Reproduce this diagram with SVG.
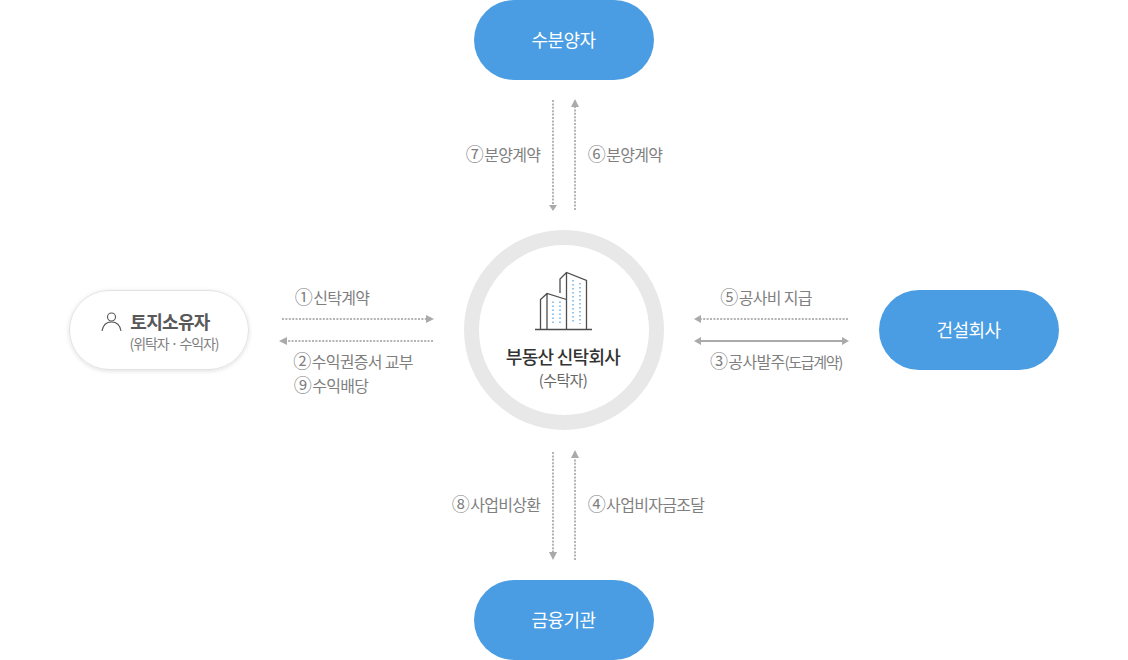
<svg xmlns="http://www.w3.org/2000/svg" width="1128" height="660" viewBox="0 0 1128 660">
<defs>
<filter id="sh" x="-20%" y="-30%" width="140%" height="160%"><feDropShadow dx="0" dy="1" stdDeviation="2" flood-color="#000" flood-opacity="0.13"/></filter>
</defs>
<style>
text{font-family:"Noto Sans CJK KR","Noto Sans",sans-serif;text-anchor:middle}
.blue{fill:#4a9de2}
.nl{fill:#fff;font-size:18px;letter-spacing:-.6px}
.lb{fill:#7f7f7f;font-size:16px;letter-spacing:-.7px}
.n{font-size:18px;letter-spacing:-2.500px}
.d{fill:none;stroke:#b4b4b4;stroke-width:2;stroke-dasharray:2 1.4}
.s{fill:none;stroke:#aaa;stroke-width:2}
.a{fill:#aaa}
.b{fill:none;stroke:#4d4d4d;stroke-width:1.3}
.w{stroke:#4a9de2;stroke-width:1.2;stroke-dasharray:1.5 2.5;fill:none}
</style>
<rect width="1128" height="660" fill="#fff"/>
<g id="connectors">
<path class="d" d="M553 100V206"/><path class="a" d="M549 205h8l-4 6z"/>
<path class="d" d="M575 210V106"/><path class="a" d="M571 107h8l-4-8z"/>
<path class="d" d="M553 452V553"/><path class="a" d="M549 552h8l-4 8z"/>
<path class="d" d="M575 560V457"/><path class="a" d="M571 458h8l-4-8z"/>
<path class="d" d="M282 319H427"/><path class="a" d="M426 315v8l8-4z"/>
<path class="d" d="M433 341H287"/><path class="a" d="M287 337v8l-8-4z"/>
<path class="d" d="M848 319H700"/><path class="a" d="M701 315v8l-7-4z"/>
<path class="s" d="M700 341H843"/><path class="a" d="M701 337v8l-7-4zM842 337v8l7-4z"/>
</g>
<g id="buyers"><rect class="blue" x="474" y="0" width="180" height="80" rx="40"/><text class="nl" x="563.500" y="47">수분양자</text></g>
<g id="bank"><rect class="blue" x="474" y="580" width="180" height="80" rx="40"/><text class="nl" x="563.500" y="627">금융기관</text></g>
<g id="builder"><rect class="blue" x="879" y="290" width="180" height="80" rx="40"/><text class="nl" x="968.500" y="337">건설회사</text></g>
<g id="owner">
<rect x="69.500" y="290.500" width="179" height="79" rx="39.500" fill="#fff" stroke="#e2e2e2" filter="url(#sh)"/>
<circle cx="111.500" cy="317" r="4" fill="none" stroke="#555" stroke-width="1.100"/>
<path d="M102 331c1-6 5-9 9.500-9s8.500 3 9.500 9" fill="none" stroke="#555" stroke-width="1.100"/>
<text x="170" y="329" font-size="18" font-weight="700" fill="#595959" letter-spacing="-.7">토지소유자</text>
<text x="174" y="349" font-size="14" fill="#7f7f7f" letter-spacing="-1.100">(위탁자 · 수익자)</text>
</g>
<g id="trust">
<circle cx="564" cy="330" r="92.500" fill="#fff" stroke="#e8e8e8" stroke-width="15"/>
<path class="w" d="M553 301.500V324M560 301.500V324M573 280V324M580 283V324"/>
<path class="b" d="M535 329.500H592M540.500 329V299.500L547 293.500l19.500 6M547 293.500V329M560 293V279l6.500-6.500 20 8V329M566.500 272.500V329"/>
<text x="563" y="364" font-size="18" font-weight="500" fill="#333" letter-spacing="-.7">부동산 신탁회사</text>
<text x="563" y="386" font-size="15" fill="#666" letter-spacing="-.6">(수탁자)</text>
</g>
<g id="labels">
<text class="lb" x="332" y="303.500"><tspan class="n">①</tspan> 신탁계약</text>
<text class="lb" x="353" y="367.500"><tspan class="n">②</tspan> 수익권증서 교부</text>
<text class="lb" x="331" y="391.500"><tspan class="n">⑨</tspan> 수익배당</text>
<text class="lb" x="766" y="303.500"><tspan class="n">⑤</tspan> 공사비 지급</text>
<text class="lb" x="776" y="367.500"><tspan class="n">③</tspan> 공사발주<tspan font-size="15" letter-spacing="-1.300">(도급계약)</tspan></text>
<text class="lb" x="503" y="160.500"><tspan class="n">⑦</tspan> 분양계약</text>
<text class="lb" x="625" y="160.500"><tspan class="n">⑥</tspan> 분양계약</text>
<text class="lb" x="496" y="510.500"><tspan class="n">⑧</tspan> 사업비상환</text>
<text class="lb" x="646" y="510.500"><tspan class="n">④</tspan> 사업비자금조달</text>
</g>
</svg>
